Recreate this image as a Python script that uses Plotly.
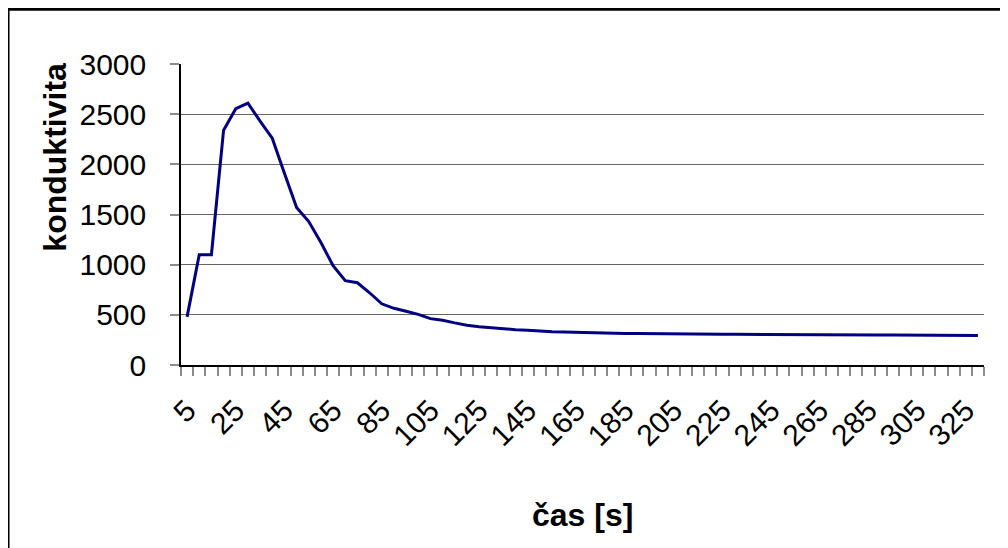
import plotly.graph_objects as go

time_s = list(range(5, 335, 5))
conductivity = [480, 1100, 1100, 2340, 2555, 2610, 2430, 2260, 1910, 1570,
                1430, 1220, 990, 840, 820, 720, 610, 565, 535, 505,
                462, 446, 420, 397, 382, 370, 358, 352, 347, 338,
                332, 329, 325, 321, 318, 317, 315, 314, 312, 311,
                311, 309, 308, 308, 307, 306, 306, 305, 304, 304,
                303, 302, 302, 301, 300, 300, 299, 299, 298, 298,
                297, 297, 296, 296, 295, 295]
x_title = "čas [s]"
y_title = "konduktivita"

FONT = "Liberation Sans, Arial, sans-serif"

fig = go.Figure(go.Scatter(x=time_s, y=conductivity, mode="lines",
                           line=dict(color="#000080", width=3)))

fig.update_layout(
    width=1000, height=540,
    margin=dict(l=173, r=24, t=56, b=183),
    paper_bgcolor="white", plot_bgcolor="white",
    showlegend=False,
    font=dict(family=FONT, color="black"),
    xaxis=dict(range=[2.5, 332.5], tickmode="linear", tick0=5, dtick=20,
               ticks="", showgrid=False, zeroline=False,
               showline=True, linecolor="black", linewidth=1.5,
               tickangle=-45, tickfont=dict(size=30, family=FONT),
               ticklabelstandoff=14,
               minor=dict(ticks="outside", tick0=2.5, dtick=5, ticklen=9,
                          tickcolor="#8c8c8c", tickwidth=1.5, showgrid=False)),
    yaxis=dict(range=[0, 3000], tickmode="linear", tick0=0, dtick=500,
               ticks="outside", ticklen=9, tickcolor="#8c8c8c", tickwidth=1.5,
               showgrid=True, gridcolor="#666666", gridwidth=1.2,
               zeroline=False, showline=True, linecolor="black", linewidth=1.5,
               tickfont=dict(size=30, family=FONT), ticklabelstandoff=18),
    annotations=[
        dict(text="<b>" + y_title + "</b>", xref="paper", yref="paper",
             x=-0.157, y=0.692, xanchor="center", yanchor="middle",
             textangle=-90, showarrow=False, font=dict(size=32, family=FONT)),
        dict(text="<b>" + x_title + "</b>", xref="paper", yref="paper",
             x=0.4994, y=-0.497, xanchor="center", yanchor="middle",
             showarrow=False, font=dict(size=32, family=FONT)),
    ],
    shapes=[dict(type="rect", xref="paper", yref="paper",
                 x0=-0.2154, x1=1.04, y0=-0.65, y1=1.182,
                 line=dict(color="black", width=3), layer="below")],
)

fig.write_html("out.html")
